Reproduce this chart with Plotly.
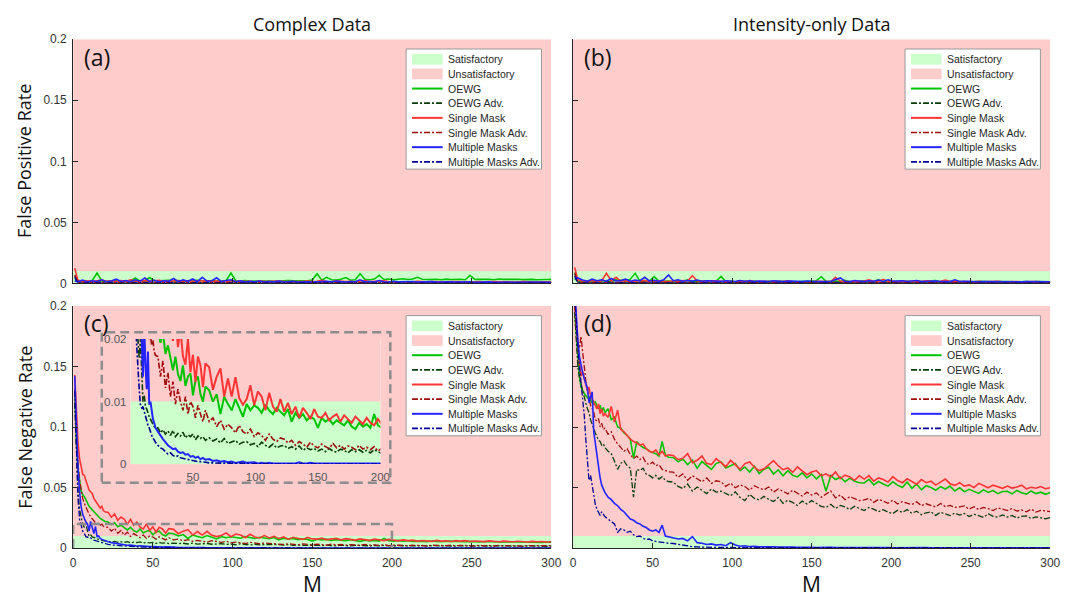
import plotly.graph_objects as go

W, H = 1084, 602
UNIT = 1e-4  # every rate list below is written in units of 1e-4

# ---------------- x grids ----------------
M_FP = [1] + list(range(3, 301, 3))                                          # 101 points
M_FN = list(range(1, 21)) + list(range(22, 61, 2)) + list(range(63, 301, 3))  # 120 points

M_MAX = 300
RATE_MAX = 0.2
THRESHOLD = 0.01
INSET_M = [0, 200]
INSET_RATE = [0, 0.02]

Y_TICKS = [0, 0.05, 0.1, 0.15, 0.2]
Y_TICK_TEXT = ["0", "0.05", "0.1", "0.15", "0.2"]
X_TICKS = [0, 50, 100, 150, 200, 250, 300]
INSET_X_TICKS = [50, 100, 150, 200]
INSET_Y_TICKS = [0, 0.01, 0.02]
INSET_Y_TEXT = ["0", "0.01", "0.02"]

SERIES_NAMES = ["OEWG", "OEWG Adv.", "Single Mask", "Single Mask Adv.",
                "Multiple Masks", "Multiple Masks Adv."]
PATCH_NAMES = ["Satisfactory", "Unsatisfactory"]

# ---------------- (a) False positive rate, complex data ----------------
a_oewg = [30, 22, 18, 20, 24, 85, 20, 18, 22, 26,
          20, 24, 22, 45, 18, 22, 48, 20, 22, 18,
          26, 20, 24, 18, 22, 20, 26, 22, 24, 20,
          22, 18, 24, 85, 22, 20, 24, 18, 20, 22,
          24, 20, 18, 22, 20, 24, 22, 20, 24, 22,
          28, 78, 26, 50, 30, 28, 34, 48, 26, 30,
          80, 34, 30, 36, 66, 32, 36, 30, 34, 38,
          32, 36, 50, 34, 32, 36, 34, 30, 35, 32,
          36, 34, 30, 66, 33, 35, 32, 34, 30, 36,
          33, 35, 32, 34, 31, 35, 33, 30, 34, 32,
          33]
a_oewg_adv = [60, 12, 9, 11, 8, 10, 13, 9, 11, 8,
              10, 12, 9, 11, 8, 10, 12, 9, 10, 8,
              9, 11, 8, 10, 9, 12, 8, 10, 9, 11,
              8, 10, 9, 11, 8, 9, 10, 8, 9, 10,
              8, 9, 10, 8, 9, 8, 10, 9, 8, 9,
              8, 9, 8, 10, 8, 9, 8, 9, 8, 9,
              8, 9, 8, 9, 8, 8, 9, 8, 9, 8,
              8, 9, 8, 8, 9, 8, 8, 9, 8, 8,
              8, 8, 9, 8, 8, 9, 8, 8, 8, 9,
              8, 8, 8, 9, 8, 8, 8, 8, 9, 8,
              8]
a_sm = [125, 25, 18, 22, 15, 20, 28, 18, 22, 16,
        24, 18, 30, 20, 16, 24, 18, 22, 26, 16,
        20, 18, 24, 16, 22, 18, 20, 16, 22, 18,
        20, 15, 18, 22, 16, 20, 15, 18, 14, 20,
        16, 18, 14, 20, 16, 15, 18, 14, 16, 20,
        15, 18, 26, 16, 14, 22, 16, 15, 18, 14,
        20, 24, 16, 18, 14, 22, 16, 15, 18, 14,
        16, 14, 18, 15, 13, 16, 14, 17, 13, 15,
        14, 16, 13, 15, 14, 16, 12, 15, 14, 13,
        15, 13, 14, 12, 15, 13, 14, 12, 14, 13,
        13]
a_sm_adv = [70, 10, 8, 9, 7, 8, 10, 7, 9, 8,
            9, 7, 8, 10, 7, 8, 9, 7, 8, 7,
            8, 9, 7, 8, 7, 9, 8, 7, 8, 7,
            7, 8, 9, 7, 8, 7, 8, 7, 8, 7,
            7, 8, 7, 8, 7, 7, 8, 7, 8, 7,
            7, 8, 7, 7, 8, 7, 7, 8, 7, 7,
            7, 7, 8, 7, 7, 8, 7, 7, 7, 8,
            7, 7, 7, 8, 7, 7, 7, 7, 8, 7,
            7, 7, 7, 7, 8, 7, 7, 7, 7, 7,
            7, 7, 8, 7, 7, 7, 7, 7, 7, 7,
            7]
a_mm = [20, 15, 28, 12, 22, 16, 30, 14, 20, 35,
        16, 24, 14, 30, 18, 45, 16, 26, 14, 22,
        18, 40, 15, 30, 17, 36, 14, 50, 18, 22,
        46, 15, 24, 30, 14, 22, 12, 18, 14, 20,
        12, 16, 13, 20, 12, 15, 18, 12, 16, 14,
        12, 16, 14, 18, 13, 20, 15, 12, 16, 14,
        30, 13, 16, 12, 24, 14, 12, 18, 13, 15,
        12, 16, 11, 14, 12, 15, 11, 13, 12, 14,
        11, 13, 12, 14, 10, 12, 11, 13, 10, 12,
        11, 12, 10, 12, 11, 10, 12, 11, 10, 11,
        10]
a_mm_adv = [50, 6, 4, 5, 3, 4, 6, 3, 4, 5,
            3, 4, 5, 3, 4, 6, 3, 4, 3, 5,
            4, 3, 5, 3, 4, 3, 4, 5, 3, 4,
            5, 3, 4, 3, 4, 3, 3, 4, 3, 4,
            3, 4, 3, 4, 3, 3, 4, 3, 3, 4,
            3, 3, 4, 3, 3, 4, 3, 3, 3, 4,
            4, 3, 3, 3, 4, 3, 3, 3, 3, 3,
            3, 3, 4, 3, 3, 3, 3, 3, 3, 3,
            3, 3, 3, 3, 3, 3, 3, 3, 3, 3,
            3, 3, 3, 3, 3, 3, 3, 3, 3, 3,
            3]

# ---------------- (b) False positive rate, intensity-only data ----------------
b_oewg = [40, 18, 15, 20, 22, 16, 25, 18, 20, 30,
          22, 20, 35, 83, 18, 24, 20, 55, 18, 22,
          20, 16, 24, 18, 30, 15, 20, 18, 22, 16,
          20, 58, 16, 20, 14, 22, 15, 18, 20, 14,
          16, 18, 14, 20, 15, 18, 16, 14, 18, 15,
          16, 22, 55, 18, 15, 20, 16, 26, 14, 18,
          16, 22, 15, 18, 30, 16, 20, 14, 18, 15,
          18, 16, 22, 15, 18, 16, 24, 14, 17, 15,
          16, 14, 18, 15, 13, 17, 14, 16, 13, 15,
          14, 16, 13, 15, 14, 16, 12, 15, 14, 13,
          14]
b_oewg_adv = [80, 10, 8, 12, 9, 11, 8, 10, 12, 9,
              10, 8, 11, 9, 12, 10, 8, 11, 9, 10,
              12, 9, 10, 8, 11, 9, 10, 8, 9, 11,
              9, 10, 8, 9, 11, 8, 10, 9, 8, 10,
              9, 8, 10, 9, 8, 9, 10, 8, 9, 8,
              9, 10, 8, 9, 8, 10, 9, 8, 9, 8,
              9, 8, 9, 10, 8, 9, 8, 9, 8, 9,
              8, 9, 8, 9, 8, 8, 9, 8, 9, 8,
              9, 8, 8, 9, 8, 9, 8, 8, 9, 8,
              8, 8, 9, 8, 8, 9, 8, 8, 8, 9,
              8]
b_sm = [130, 30, 20, 18, 24, 16, 22, 83, 20, 50,
        18, 22, 16, 20, 18, 24, 16, 20, 22, 18,
        16, 22, 18, 24, 20, 64, 22, 18, 20, 16,
        22, 18, 16, 20, 14, 18, 16, 24, 15, 18,
        20, 16, 14, 18, 15, 22, 16, 14, 18, 16,
        14, 18, 16, 20, 15, 50, 18, 15, 14, 18,
        16, 20, 30, 18, 15, 34, 16, 20, 14, 18,
        16, 14, 18, 15, 22, 16, 14, 18, 28, 15,
        16, 14, 18, 15, 13, 17, 14, 16, 13, 18,
        14, 16, 13, 15, 14, 16, 12, 15, 14, 13,
        14]
b_sm_adv = [90, 9, 7, 10, 8, 9, 7, 11, 8, 9,
            8, 10, 7, 9, 8, 10, 7, 9, 8, 7,
            9, 8, 10, 7, 8, 9, 7, 8, 9, 7,
            8, 7, 9, 8, 7, 8, 9, 7, 8, 7,
            8, 7, 8, 9, 7, 8, 7, 8, 7, 8,
            7, 8, 7, 8, 7, 9, 7, 8, 7, 7,
            8, 7, 8, 7, 8, 7, 7, 8, 7, 8,
            7, 7, 8, 7, 7, 8, 7, 7, 8, 7,
            7, 8, 7, 7, 7, 8, 7, 7, 7, 8,
            7, 7, 7, 8, 7, 7, 7, 7, 7, 8,
            7]
b_mm = [40, 45, 28, 18, 35, 22, 30, 18, 40, 20,
        24, 35, 18, 28, 22, 50, 20, 26, 18, 30,
        70, 22, 30, 18, 24, 20, 28, 18, 22, 20,
        24, 18, 22, 20, 16, 24, 18, 22, 16, 20,
        18, 16, 22, 18, 15, 20, 16, 18, 15, 20,
        18, 16, 20, 15, 18, 30, 45, 18, 16, 24,
        20, 16, 22, 18, 28, 16, 30, 18, 20, 22,
        16, 18, 24, 16, 18, 15, 20, 16, 18, 15,
        30, 16, 18, 15, 17, 14, 16, 15, 17, 14,
        15, 16, 14, 15, 13, 15, 14, 13, 14, 13,
        14]
b_mm_adv = [60, 6, 4, 5, 4, 6, 3, 5, 4, 5,
            4, 5, 3, 4, 6, 4, 3, 5, 4, 3,
            5, 4, 3, 4, 5, 3, 4, 3, 5, 4,
            3, 4, 5, 3, 4, 3, 4, 3, 4, 3,
            4, 3, 3, 4, 3, 4, 3, 3, 4, 3,
            3, 4, 3, 3, 4, 3, 3, 4, 3, 3,
            3, 3, 4, 3, 3, 3, 4, 3, 3, 3,
            3, 4, 3, 3, 3, 3, 3, 4, 3, 3,
            3, 3, 3, 3, 3, 3, 3, 3, 3, 3,
            3, 3, 3, 3, 3, 3, 3, 3, 3, 3,
            3]

# ---------------- (c) False negative rate, complex data ----------------
c_oewg = [1300, 880, 660, 540, 470, 440, 425, 400, 370, 345,
          330, 315, 300, 285, 270, 258, 245, 236, 228, 220,
          215, 194, 210, 176, 190, 170, 150, 172, 144, 133,
          158, 125, 140, 145, 110, 134, 140, 112, 100, 124,
          118, 100, 112, 80, 108, 96, 86, 104, 90, 76,
          96, 86, 94, 90, 82, 95, 86, 80, 90, 84,
          78, 88, 68, 82, 74, 80, 70, 76, 72, 58,
          74, 68, 72, 64, 70, 66, 62, 70, 60, 56,
          66, 60, 64, 58, 80, 62, 58, 64, 57, 61,
          56, 60, 58, 54, 59, 56, 53, 58, 55, 52,
          55, 52, 56, 53, 50, 55, 52, 54, 50, 51,
          53, 49, 52, 50, 48, 52, 49, 47, 50, 48]
c_oewg_adv = [1200, 760, 480, 320, 250, 200, 170, 200, 140, 100,
              110, 92, 88, 80, 76, 72, 68, 62, 60, 58,
              58, 50, 55, 48, 53, 46, 54, 44, 49, 45,
              51, 42, 47, 44, 48, 39, 45, 41, 44, 38,
              42, 37, 40, 34, 41, 33, 36, 38, 32, 35,
              36, 31, 33, 28, 35, 30, 27, 32, 26, 29,
              30, 25, 28, 24, 29, 22, 26, 23, 25, 21,
              24, 20, 25, 21, 19, 24, 22, 18, 23, 20,
              23, 19, 22, 18, 23, 20, 17, 22, 19, 18,
              21, 18, 22, 17, 20, 19, 16, 21, 18, 17,
              20, 18, 21, 16, 19, 17, 20, 16, 19, 17,
              19, 17, 18, 15, 19, 17, 16, 18, 15, 17]
c_sm = [1430, 1120, 880, 740, 660, 610, 600, 560, 520, 480,
        465, 450, 410, 385, 370, 350, 330, 345, 310, 300,
        295, 255, 283, 230, 257, 240, 197, 237, 187, 215,
        173, 159, 200, 147, 175, 131, 172, 158, 123, 161,
        155, 119, 140, 153, 108, 137, 108, 139, 106, 95,
        104, 126, 94, 116, 108, 86, 114, 92, 84, 104,
        84, 98, 80, 92, 74, 90, 82, 72, 88, 76,
        74, 82, 70, 76, 80, 68, 78, 72, 66, 76,
        70, 64, 74, 66, 62, 72, 64, 60, 68, 62,
        66, 58, 63, 60, 56, 64, 58, 61, 55, 62,
        58, 62, 55, 59, 57, 54, 60, 56, 53, 58,
        55, 52, 57, 54, 51, 56, 52, 55, 50, 52]
c_sm_adv = [1320, 960, 700, 560, 470, 410, 370, 335, 305, 280,
            258, 240, 222, 210, 200, 206, 190, 198, 180, 174,
            172, 140, 165, 122, 146, 108, 132, 96, 120, 100,
            86, 108, 80, 100, 92, 74, 94, 80, 68, 86,
            68, 74, 60, 70, 56, 64, 58, 50, 62, 52,
            48, 56, 44, 50, 46, 38, 48, 40, 36, 42,
            40, 34, 38, 30, 36, 32, 27, 35, 29, 26,
            32, 28, 25, 33, 26, 30, 24, 29, 27, 23,
            30, 24, 27, 23, 28, 21, 25, 23, 27, 20,
            24, 22, 26, 19, 24, 21, 23, 20, 24, 19,
            23, 20, 22, 18, 24, 19, 21, 18, 23, 18,
            21, 19, 22, 17, 20, 21, 18, 20, 19, 20]
c_mm = [1420, 980, 680, 470, 340, 280, 240, 215, 200, 140,
        220, 160, 120, 180, 95, 100, 80, 72, 66, 58,
        52, 45, 40, 35, 30, 27, 24, 25, 20, 18,
        19, 15, 16, 12, 13, 10, 12, 8, 10, 7,
        8, 5, 6, 4, 5, 3, 4, 2, 3, 4,
        2, 2, 3, 1, 2, 1, 2, 1, 1, 2,
        1, 1, 2, 1, 3, 1, 1, 2, 1, 1,
        1, 1, 1, 2, 1, 1, 1, 1, 1, 1,
        1, 1, 1, 1, 1, 1, 1, 1, 1, 1,
        1, 1, 1, 1, 1, 1, 1, 1, 1, 1,
        1, 1, 1, 1, 1, 1, 1, 1, 1, 1,
        1, 1, 1, 1, 1, 1, 1, 1, 1, 1]
c_mm_adv = [1300, 800, 420, 240, 190, 140, 120, 95, 90, 92,
            84, 74, 66, 62, 58, 50, 46, 42, 38, 35,
            30, 26, 24, 20, 16, 18, 14, 12, 13, 10,
            9, 8, 7, 6, 5, 5, 4, 4, 3, 3,
            2, 2, 1, 2, 1, 1, 1, 1, 1, 1,
            1, 0, 1, 1, 0, 1, 0, 1, 0, 0,
            0, 1, 0, 0, 0, 1, 0, 0, 0, 0,
            0, 0, 0, 0, 0, 0, 0, 0, 0, 0,
            0, 0, 0, 0, 0, 0, 0, 0, 0, 0,
            0, 0, 0, 0, 0, 0, 0, 0, 0, 0,
            0, 0, 0, 0, 0, 0, 0, 0, 0, 0,
            0, 0, 0, 0, 0, 0, 0, 0, 0, 0]

# ---------------- (d) False negative rate, intensity-only data ----------------
d_oewg = [1950, 1750, 1550, 1420, 1330, 1300, 1280, 1260, 1240, 1250,
          1220, 1200, 1190, 1210, 1170, 1150, 1180, 1130, 1160, 1120,
          1150, 1060, 1080, 1000, 990, 950, 930, 900, 740, 880,
          850, 830, 820, 800, 790, 780, 760, 880, 770, 750,
          748, 712, 735, 690, 728, 660, 715, 680, 650, 700,
          712, 662, 680, 698, 640, 670, 628, 676, 615, 652,
          668, 612, 645, 598, 640, 602, 588, 622, 580, 612,
          572, 608, 470, 598, 566, 585, 548, 578, 552, 540,
          538, 568, 522, 550, 530, 512, 548, 520, 500, 546,
          494, 528, 482, 515, 500, 478, 508, 488, 512, 472,
          498, 466, 485, 470, 452, 482, 460, 476, 450, 468,
          470, 448, 476, 458, 446, 472, 450, 462, 444, 460]
d_oewg_adv = [1950, 1700, 1500, 1400, 1360, 1300, 1240, 1200, 1150, 1120,
              1060, 1020, 980, 950, 920, 890, 880, 850, 860, 830,
              800, 780, 720, 650, 700, 720, 680, 660, 420, 650,
              640, 660, 610, 600, 580, 600, 570, 590, 560, 550,
              545, 510, 492, 530, 470, 505, 478, 450, 488, 462,
              470, 448, 432, 465, 418, 392, 445, 410, 398, 428,
              402, 385, 418, 370, 395, 378, 352, 388, 365, 392,
              368, 345, 335, 362, 328, 352, 340, 318, 345, 325,
              310, 336, 322, 300, 318, 296, 285, 312, 295, 318,
              288, 305, 276, 292, 300, 270, 296, 282, 268, 290,
              272, 286, 260, 280, 268, 254, 284, 262, 256, 274,
              256, 270, 248, 262, 266, 244, 258, 250, 242, 252]
d_sm = [2050, 1850, 1650, 1520, 1420, 1460, 1400, 1350, 1300, 1330,
        1260, 1230, 1200, 1170, 1150, 1190, 1110, 1150, 1090, 1110,
        1080, 1170, 1040, 1140, 980, 960, 930, 900, 880, 870,
        850, 860, 820, 800, 790, 810, 770, 800, 760, 770,
        765, 730, 742, 780, 705, 725, 760, 700, 690, 738,
        705, 672, 725, 690, 650, 698, 712, 668, 640, 655,
        690, 722, 680, 648, 662, 625, 670, 640, 606, 628,
        640, 598, 612, 590, 628, 575, 602, 588, 560, 597,
        570, 598, 552, 580, 566, 545, 590, 558, 540, 572,
        548, 528, 566, 540, 552, 520, 545, 570, 532, 518,
        540, 512, 522, 500, 535, 515, 498, 520, 508, 494,
        512, 496, 505, 520, 490, 502, 494, 508, 490, 498]
d_sm_adv = [2000, 1850, 1700, 1650, 1750, 1620, 1480, 1380, 1300, 1240,
            1180, 1150, 1120, 1060, 1050, 1070, 1000, 1030, 980, 990,
            940, 960, 900, 860, 830, 800, 820, 770, 740, 760,
            730, 750, 700, 690, 710, 680, 690, 650, 640, 630,
            628, 585, 612, 560, 598, 572, 548, 580, 535, 556,
            548, 510, 536, 498, 522, 508, 478, 515, 495, 482,
            505, 462, 488, 470, 448, 478, 452, 430, 462, 438,
            455, 420, 446, 472, 415, 438, 400, 425, 408, 392,
            398, 410, 378, 402, 388, 370, 396, 365, 384, 372,
            360, 382, 350, 366, 356, 340, 368, 344, 352, 336,
            340, 348, 322, 342, 318, 336, 326, 310, 332, 320,
            310, 326, 306, 315, 300, 322, 298, 312, 304, 302]
d_mm = [2150, 1900, 1720, 1580, 1500, 1450, 1400, 1360, 1320, 1200,
        1250, 1290, 960, 860, 780, 640, 580, 520, 490, 460,
        420, 400, 370, 350, 320, 300, 270, 240, 230, 210,
        200, 180, 170, 150, 140, 150, 130, 190, 100, 95,
        85, 75, 80, 60, 95, 45, 40, 30, 35, 25,
        30, 20, 45, 25, 15, 20, 12, 15, 10, 12,
        9, 11, 8, 10, 7, 9, 6, 8, 6, 7,
        5, 7, 5, 6, 5, 6, 4, 5, 4, 5,
        4, 5, 4, 5, 4, 4, 3, 4, 3, 4,
        3, 4, 3, 4, 3, 3, 4, 3, 3, 4,
        3, 3, 4, 3, 3, 3, 4, 3, 3, 3,
        3, 3, 3, 4, 3, 3, 3, 3, 3, 3]
d_mm_adv = [2100, 1850, 1650, 1500, 1380, 1250, 1100, 900, 700, 560,
            600, 520, 430, 360, 320, 290, 270, 300, 280, 260,
            240, 220, 200, 130, 160, 150, 130, 140, 110, 95,
            100, 80, 70, 75, 60, 55, 50, 48, 45, 40,
            38, 30, 25, 14, 12, 10, 8, 7, 6, 6,
            5, 5, 5, 4, 4, 4, 3, 4, 3, 3,
            3, 3, 2, 3, 2, 3, 2, 2, 3, 2,
            2, 2, 2, 2, 2, 2, 2, 2, 2, 2,
            2, 2, 2, 2, 2, 2, 2, 2, 2, 2,
            2, 2, 2, 2, 2, 2, 2, 2, 2, 2,
            2, 2, 2, 2, 2, 2, 2, 2, 2, 2,
            2, 2, 2, 2, 2, 2, 2, 2, 2, 2]

PANEL_DATA = {
    "a": (M_FP, [a_oewg, a_oewg_adv, a_sm, a_sm_adv, a_mm, a_mm_adv]),
    "b": (M_FP, [b_oewg, b_oewg_adv, b_sm, b_sm_adv, b_mm, b_mm_adv]),
    "c": (M_FN, [c_oewg, c_oewg_adv, c_sm, c_sm_adv, c_mm, c_mm_adv]),
    "d": (M_FN, [d_oewg, d_oewg_adv, d_sm, d_sm_adv, d_mm, d_mm_adv]),
}
for k, (xs, lists) in PANEL_DATA.items():
    for lst in lists:
        assert len(lst) == len(xs), (k, len(lst), len(xs))

# ---------------- styles ----------------
ADV_DASH = "6px,2px,2px,2px"
SERIES_STYLE = [
    dict(color="#00c400", width=1.6, dash="solid"),
    dict(color="#0b3d0b", width=1.3, dash=ADV_DASH),
    dict(color="#ff3535", width=1.6, dash="solid"),
    dict(color="#a00d0d", width=1.3, dash=ADV_DASH),
    dict(color="#2424ff", width=1.6, dash="solid"),
    dict(color="#000096", width=1.3, dash=ADV_DASH),
]
PATCH_COLORS = ["#ccffcc", "#ffcccc"]
PINK, GREEN = "#ffcccc", "#ccffcc"
AXC = "#262626"
TICKFONT = dict(family="Liberation Sans, Arial, sans-serif", size=12, color="#333333")
TITLEFONT = "Open Sans, Noto Sans, sans-serif"
DASH_GREY = "#8c8c8c"

# pixel boxes of the plot areas (left, right, top, bottom)
PX = {"a": (71, 555, 33, 283), "b": (577, 1060, 33, 283),
      "c": (71, 555, 306, 554), "d": (577, 1060, 306, 554)}
AX = {"a": ("x", "y"), "b": ("x2", "y2"), "c": ("x3", "y3"), "d": ("x4", "y4")}
BOX_PX = (100, 392, 333, 487)     # white inset frame
INSET_PX = (129, 382, 340, 468)   # inset plot area


def px(x):
    return x / W


def py(y):
    return 1 - y / H


def lkey(ref):
    return ("xaxis" if ref[0] == "x" else "yaxis") + ref[1:]


fig = go.Figure()
layout = {}
shapes = []
annotations = []


def background(xref, yref, xmax, ymax):
    shapes.append(dict(type="rect", xref=xref, yref=yref, x0=0, x1=xmax, y0=0, y1=ymax,
                       fillcolor=PINK, line=dict(width=0), layer="below"))
    shapes.append(dict(type="rect", xref=xref, yref=yref, x0=0, x1=xmax, y0=0, y1=THRESHOLD,
                       fillcolor=GREEN, line=dict(width=0), layer="below"))


def add_series(xs, lists, xref, yref, wscale=1.0):
    for name, style, vals in zip(SERIES_NAMES, SERIES_STYLE, lists):
        st = dict(style, width=style["width"] * wscale)
        fig.add_trace(go.Scatter(x=xs, y=[v * UNIT for v in vals], mode="lines", name=name,
                                 line=st, xaxis=xref, yaxis=yref, showlegend=False,
                                 hoverinfo="skip"))


# main panels
for key, (x0, x1, y0, y1) in PX.items():
    xr, yr = AX[key]
    layout[lkey(xr)] = dict(domain=[px(x0), px(x1)], anchor=yr, range=[0, M_MAX],
                            tickvals=X_TICKS, ticks="inside", ticklen=5, tickwidth=1,
                            tickcolor=AXC, showline=True, linecolor=AXC, linewidth=1,
                            showgrid=False, zeroline=False, showticklabels=key in "cd",
                            tickfont=TICKFONT, ticklabelstandoff=3, fixedrange=True)
    layout[lkey(yr)] = dict(domain=[py(y1), py(y0)], anchor=xr, range=[0, RATE_MAX],
                            tickvals=Y_TICKS, ticktext=Y_TICK_TEXT, ticks="inside", ticklen=5,
                            tickwidth=1, tickcolor=AXC, showline=True, linecolor=AXC,
                            linewidth=1, showgrid=False, zeroline=False,
                            showticklabels=key in "ac", tickfont=TICKFONT,
                            ticklabelstandoff=3, fixedrange=True)
    background(xr, yr, M_MAX, RATE_MAX)
    xs, lists = PANEL_DATA[key]
    add_series(xs, lists, xr, yr)
    annotations.append(dict(text="(%s)" % key, x=px(x0 + 9), y=py(y0 + 18), xref="paper",
                            yref="paper", xanchor="left", yanchor="middle", showarrow=False,
                            font=dict(family=TITLEFONT, size=23, color="#111111")))

# white frame behind the inset (its own subplot so it covers panel (c))
bx0, bx1, by0, by1 = BOX_PX
layout["xaxis5"] = dict(domain=[px(bx0), px(bx1)], anchor="y5", range=[0, 1], visible=False,
                        fixedrange=True)
layout["yaxis5"] = dict(domain=[py(by1), py(by0)], anchor="x5", range=[0, 1], visible=False,
                        fixedrange=True)
shapes.append(dict(type="rect", xref="paper", yref="paper", x0=px(bx0), x1=px(bx1),
                   y0=py(by1), y1=py(by0), line=dict(color=DASH_GREY, width=2.5, dash="9px,5px"),
                   fillcolor="rgba(0,0,0,0)", layer="above"))

# inset
ix0, ix1, iy0, iy1 = INSET_PX
INSET_FONT = dict(family="Liberation Sans, Arial, sans-serif", size=11.5, color="#555555")
layout["xaxis6"] = dict(domain=[px(ix0), px(ix1)], anchor="y6", range=INSET_M,
                        tickvals=INSET_X_TICKS, ticks="", showline=False, showgrid=False,
                        zeroline=False, tickfont=INSET_FONT, ticklabelstandoff=4,
                        fixedrange=True)
layout["yaxis6"] = dict(domain=[py(iy1), py(iy0)], anchor="x6", range=INSET_RATE,
                        tickvals=INSET_Y_TICKS, ticktext=INSET_Y_TEXT, ticks="", showline=False,
                        showgrid=False, zeroline=False, tickfont=INSET_FONT,
                        ticklabelstandoff=3, fixedrange=True)
background("x6", "y6", INSET_M[1], INSET_RATE[1])
add_series(M_FN, PANEL_DATA["c"][1], "x6", "y6", wscale=1.25)

# dashed marker of the zoomed region in (c)
zx0, zx1 = INSET_M
zy0, zy1 = INSET_RATE
shapes.append(dict(type="path", xref="x3", yref="y3",
                   path="M %g,%g L %g,%g L %g,%g L %g,%g" % (zx0, zy0, zx0, zy1, zx1, zy1, zx1, zy0),
                   line=dict(color=DASH_GREY, width=2.5, dash="9px,5px"), layer="above"))

# manual legends
LEG_W, LEG_H, ROW, FIRST = 137, 123, 15, 10.5
for key, (x0, x1, y0, y1) in PX.items():
    right = x1 - 10
    left = right - LEG_W
    top = y0 + 10
    shapes.append(dict(type="rect", xref="paper", yref="paper", x0=px(left), x1=px(right),
                       y0=py(top + LEG_H), y1=py(top), fillcolor="white",
                       line=dict(color="#999999", width=1), layer="above"))
    labels = PATCH_NAMES + SERIES_NAMES
    for i, lab in enumerate(labels):
        cy = top + FIRST + ROW * i
        if i < 2:
            shapes.append(dict(type="rect", xref="paper", yref="paper", x0=px(left + 6),
                               x1=px(left + 37), y0=py(cy + 5.5), y1=py(cy - 5.5),
                               fillcolor=PATCH_COLORS[i], line=dict(width=0), layer="above"))
        else:
            st = SERIES_STYLE[i - 2]
            shapes.append(dict(type="line", xref="paper", yref="paper", x0=px(left + 6),
                               x1=px(left + 37), y0=py(cy), y1=py(cy),
                               line=dict(color=st["color"], width=st["width"] + 0.4,
                                         dash=st["dash"]), layer="above"))
        annotations.append(dict(text=lab, x=px(left + 40), y=py(cy), xref="paper",
                                yref="paper", xanchor="left", yanchor="middle",
                                showarrow=False,
                                font=dict(family="Liberation Sans, Arial, sans-serif",
                                          size=10.5, color="#262626")))

# titles and axis labels
for text, cx in (("Complex Data", (PX["a"][0] + PX["a"][1]) / 2),
                 ("Intensity-only Data", (PX["b"][0] + PX["b"][1]) / 2)):
    annotations.append(dict(text=text, x=px(cx), y=py(17), xref="paper", yref="paper",
                            xanchor="center", yanchor="middle", showarrow=False,
                            font=dict(family=TITLEFONT, size=18, color="#111111")))
    annotations.append(dict(text="M", x=px(cx), y=py(591), xref="paper", yref="paper",
                            xanchor="center", yanchor="middle", showarrow=False,
                            font=dict(family=TITLEFONT, size=21, color="#111111")))
for text, key in (("False Positive Rate", "a"), ("False Negative Rate", "c")):
    cy = (PX[key][2] + PX[key][3]) / 2
    annotations.append(dict(text=text, x=px(22), y=py(cy), xref="paper", yref="paper",
                            xanchor="center", yanchor="middle", textangle=-90,
                            showarrow=False,
                            font=dict(family=TITLEFONT, size=18, color="#111111")))

fig.update_layout(width=W, height=H, margin=dict(l=0, r=0, t=0, b=0),
                  paper_bgcolor="white", plot_bgcolor="white", showlegend=False,
                  shapes=shapes, annotations=annotations, **layout)

fig.write_html("out.html")
